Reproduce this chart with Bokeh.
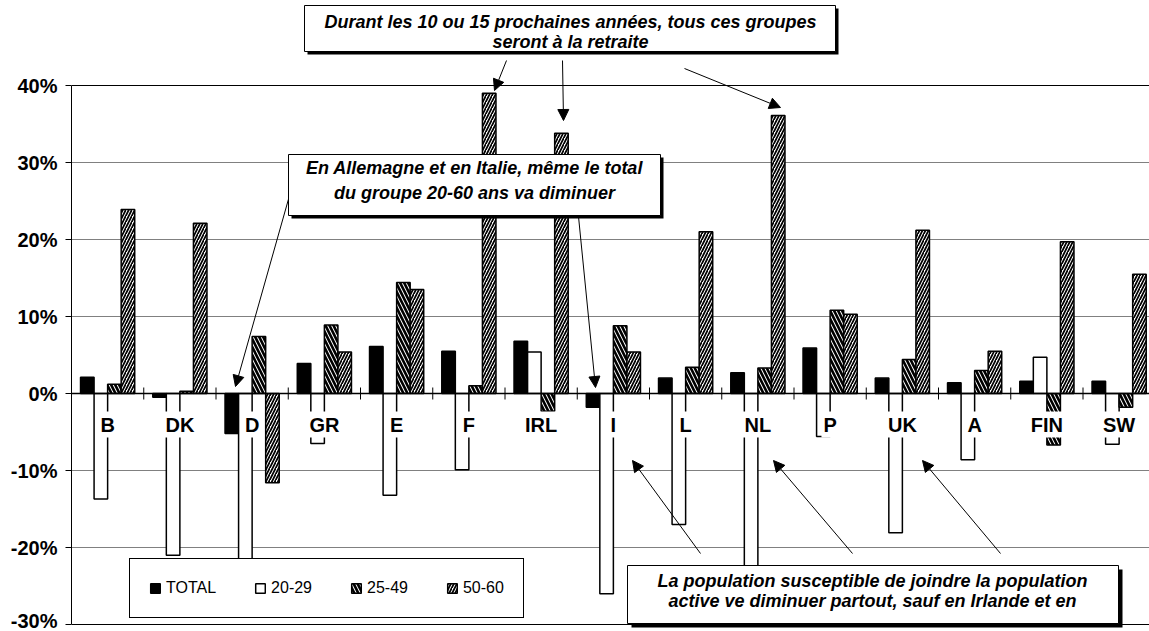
from bokeh.plotting import figure
from bokeh.models import (FixedTicker, PrintfTickFormatter, Label, BoxAnnotation,
                          Arrow, NormalHead, Legend, LegendItem, ColumnDataSource)
from bokeh.embed import file_html
from bokeh.resources import INLINE

# Expected change of working-age groups, in percent
countries = ["B", "DK", "D", "GR", "E", "F", "IRL", "I", "L", "NL", "P", "UK", "A", "FIN", "SW"]
total     = [2.1, -0.5, -5.2, 3.9, 6.1, 5.5, 6.8, -1.8, 2.0, 2.7, 5.9, 2.0, 1.4, 1.6, 1.6]
age_20_29 = [-13.7, -21.0, -25.0, -6.5, -13.2, -9.9, 5.4, -26.0, -17.0, -24.0, -5.6, -18.1, -8.6, 4.7, -6.6]
age_25_49 = [1.2, 0.3, 7.4, 8.9, 14.4, 1.0, -2.3, 8.8, 3.4, 3.3, 10.8, 4.4, 3.0, -6.7, -1.8]
age_50_60 = [23.9, 22.1, -11.6, 5.4, 13.5, 39.0, 33.8, 5.4, 21.0, 36.1, 10.3, 21.2, 5.5, 19.7, 15.5]
series_names = ["TOTAL", "20-29", "25-49", "50-60"]
y_ticks = [-30, -20, -10, 0, 10, 20, 30, 40]

W, H = 1149, 631
LEFT = 71            # left edge of the plotting frame, px
CAT_PX = 72.25       # width of one country group, px
ZERO_PX = 393        # vertical position of 0 %, px from top
PX_PER_PCT = 7.7


def dx(px):
    return -0.5 + (px - LEFT) / CAT_PX


def dy(py):
    return (ZERO_PX - py) / PX_PER_PCT


FONT = "Liberation Sans"

p = figure(width=W, height=H,
           x_range=(dx(LEFT), dx(W)), y_range=(dy(H), dy(0)),
           output_backend="svg", toolbar_location=None, x_axis_location=None,
           min_border_left=LEFT, min_border_right=0, min_border_top=0, min_border_bottom=0,
           outline_line_color=None, background_fill_color="white")

# value axis
yax = p.yaxis[0]
yax.ticker = FixedTicker(ticks=y_ticks)
yax.formatter = PrintfTickFormatter(format="%d%%")
yax.bounds = (y_ticks[0], y_ticks[-1])
yax.axis_line_color = "black"
yax.axis_line_width = 1
yax.major_tick_out = 6
yax.major_tick_in = 0
yax.minor_tick_out = 0
yax.minor_tick_in = 0
yax.major_tick_line_color = "black"
yax.major_label_standoff = 8
yax.major_label_text_font = FONT
yax.major_label_text_font_style = "bold"
yax.major_label_text_font_size = "20px"
yax.major_label_text_color = "black"

p.xgrid.visible = False
p.ygrid.ticker = FixedTicker(ticks=y_ticks[1:-1])
p.ygrid.grid_line_color = "#808080"
p.ygrid.grid_line_width = 1

# plot-area border lines at top and bottom
p.segment(x0=[dx(LEFT)] * 2, x1=[dx(W)] * 2, y0=[y_ticks[0], y_ticks[-1]],
          y1=[y_ticks[0], y_ticks[-1]], line_color="black", line_width=1.2)

# grouped bars
n = len(countries)
bar_w = 0.1875
offsets = [-1.5 * bar_w, -0.5 * bar_w, 0.5 * bar_w, 1.5 * bar_w]
values = [total, age_20_29, age_25_49, age_50_60]
styles = [
    dict(fill_color="black"),
    dict(fill_color="white"),
    dict(fill_color="white", hatch_pattern="\\", hatch_color="black", hatch_scale=8, hatch_weight=2.6),
    dict(fill_color="white", hatch_pattern="/", hatch_color="black", hatch_scale=6, hatch_weight=1.7),
]
renderers = []
for name, vals, off, st in zip(series_names, values, offsets, styles):
    src = ColumnDataSource(dict(x=[i + off for i in range(n)], top=vals))
    r = p.vbar(x="x", top="top", bottom=0, width=bar_w, source=src,
               line_color="black", line_width=1.5, **st)
    renderers.append((name, r))

# category axis along zero with tick marks between groups
p.segment(x0=[dx(LEFT)], x1=[dx(W)], y0=[0], y1=[0], line_color="black", line_width=1.5)
bx = [i + 0.5 for i in range(n)]
p.segment(x0=bx, x1=bx, y0=[dy(387)] * n, y1=[dy(399)] * n, line_color="black", line_width=1)

for i, c in enumerate(countries):
    p.add_layout(Label(x=i, y=dy(424), text=c, text_align="center", text_baseline="alphabetic",
                       text_font=FONT, text_font_style="bold", text_font_size="20px",
                       text_color="black", background_fill_color="white", padding=2))

# legend
legend = Legend(items=[LegendItem(label=nm, renderers=[r]) for nm, r in renderers],
                location=(129 - LEFT, H - 618), orientation="horizontal",
                border_line_color="black", border_line_width=1, border_line_alpha=1,
                background_fill_color="white", background_fill_alpha=1,
                padding=19, margin=0, spacing=38, glyph_width=12, glyph_height=12,
                label_standoff=5, label_height=20,
                label_text_font=FONT, label_text_font_size="16px", label_text_color="black")
p.add_layout(legend)

# call-out arrows
arrows = [
    ((506, 60), (494, 90)),
    ((562, 60), (563, 120)),
    ((684, 68), (780, 107)),
    ((291, 188), (235, 386)),
    ((578, 216), (595, 387)),
    ((700, 553), (632, 460)),
    ((852, 553), (773, 460)),
    ((1000, 553), (922, 460)),
]
for (sx, sy), (ex, ey) in arrows:
    p.add_layout(Arrow(x_start=dx(sx), y_start=dy(sy), x_end=dx(ex), y_end=dy(ey),
                       line_color="black", line_width=1,
                       end=NormalHead(size=11, fill_color="black", line_color="black")))


def callout(l, t, r, b, lines, baselines, cx, shadow=3):
    p.add_layout(BoxAnnotation(left=dx(l + shadow), right=dx(r + shadow), top=dy(t + shadow),
                               bottom=dy(b + shadow), fill_color="black", fill_alpha=1,
                               line_color=None))
    p.add_layout(BoxAnnotation(left=dx(l), right=dx(r), top=dy(t), bottom=dy(b),
                               fill_color="white", fill_alpha=1, line_color="black",
                               line_alpha=1, line_width=1))
    for txt, bl in zip(lines, baselines):
        p.add_layout(Label(x=dx(cx), y=dy(bl), text=txt, text_align="center",
                           text_baseline="alphabetic", text_font=FONT,
                           text_font_style="bold italic", text_font_size="18px",
                           text_color="black"))


callout(304, 5, 835, 51,
        ["Durant les 10 ou 15 prochaines années, tous ces groupes", "seront à la retraite"],
        [21, 41], 570)
callout(288, 154, 660, 215,
        ["En Allemagne et en Italie, même le total", "du groupe 20-60 ans va diminuer"],
        [167, 192], 474)
callout(627, 565, 1118, 623,
        ["La population susceptible de joindre la population",
         "active ve diminuer partout, sauf en Irlande et en"],
        [580, 600], 872, shadow=4)

open("out.html", "w").write(file_html(p, INLINE))
